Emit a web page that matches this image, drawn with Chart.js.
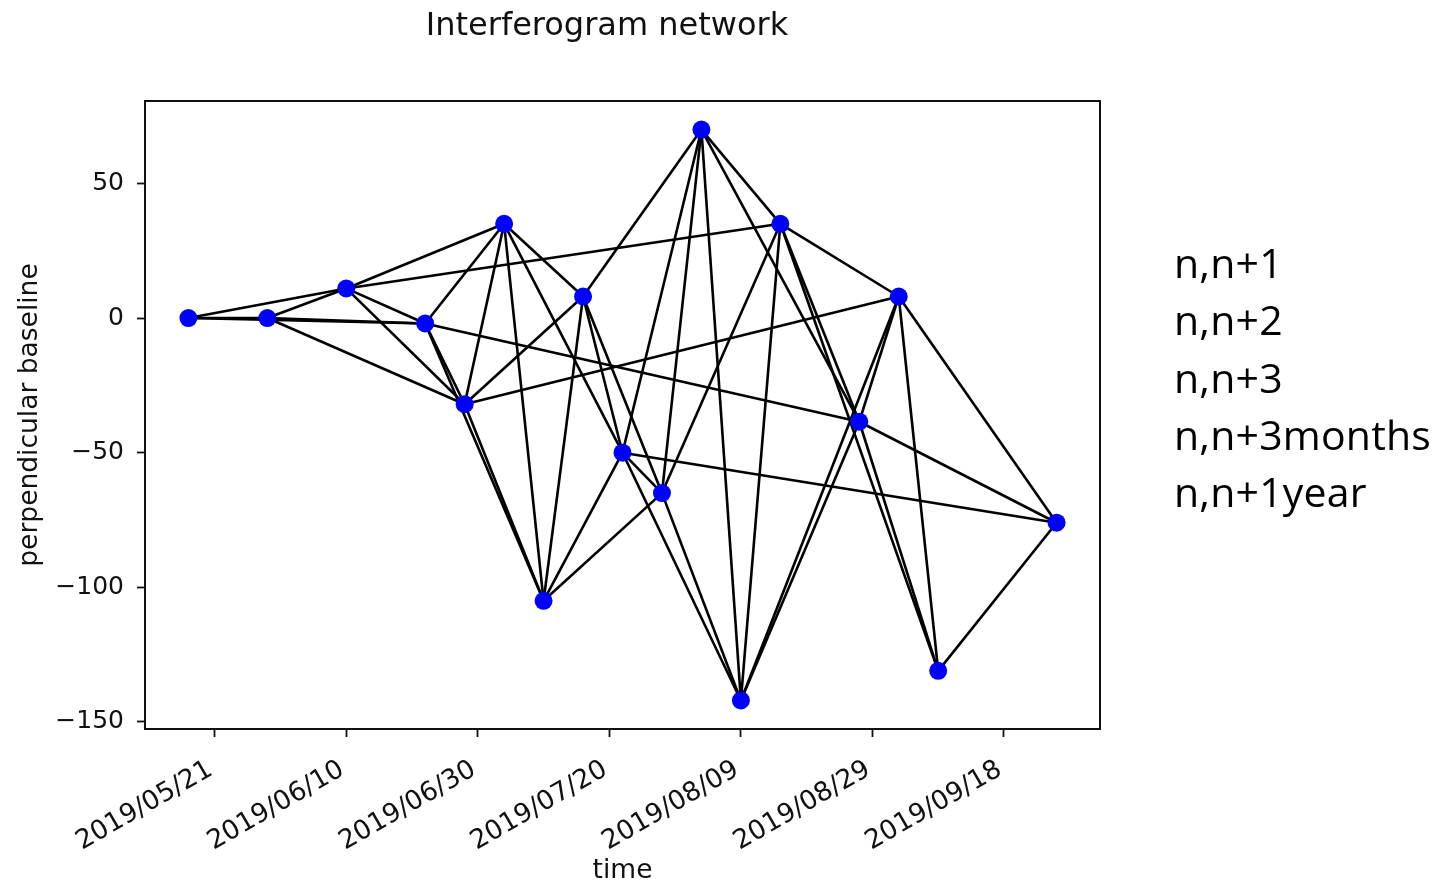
<!DOCTYPE html>
<html>
<head>
<meta charset="utf-8">
<title>Interferogram network</title>
<script src="https://cdn.jsdelivr.net/npm/chart.js@4.4.1/dist/chart.umd.min.js"></script>
<style>
  html, body { margin: 0; padding: 0; background: #ffffff; }
  #wrap { position: relative; width: 1449px; height: 883px; overflow: hidden; }
  #net { position: absolute; left: 0; top: 0; }
  #pairTypes {
    position: absolute; left: 1174px; top: 234px;
    font-family: "Open Sans", "Liberation Sans", sans-serif;
    font-size: 41px; line-height: 57.3px; color: #000000;
    letter-spacing: 0.2px; white-space: nowrap;
  }
</style>
</head>
<body>
<div id="wrap">
  <canvas id="net" width="1449" height="883"></canvas>
  <div id="pairTypes"></div>
</div>
<script>
// Acquisition dates and their perpendicular baselines
const acqDates = ['2019-05-17', '2019-05-29', '2019-06-10', '2019-06-22', '2019-06-28',
                  '2019-07-04', '2019-07-10', '2019-07-16', '2019-07-22', '2019-07-28',
                  '2019-08-03', '2019-08-09', '2019-08-15', '2019-08-27', '2019-09-02',
                  '2019-09-08', '2019-09-26'];
const bperp = [0, 0, 11, -2, -32, 35, -105, 8, -50, -65, 70, -142, 35, -38.5, 8, -131, -76];

// Interferogram pairs, as indices into acqDates
const pairs = [
  [0, 1], [0, 2], [0, 3],
  [1, 2], [1, 3], [1, 4],
  [2, 3], [2, 4], [2, 5], [2, 12],
  [3, 4], [3, 5], [3, 6], [3, 13],
  [4, 5], [4, 6], [4, 7], [4, 14],
  [5, 6], [5, 7], [5, 8],
  [6, 7], [6, 8], [6, 9],
  [7, 8], [7, 9], [7, 10],
  [8, 9], [8, 10], [8, 11], [8, 16],
  [9, 10], [9, 11], [9, 12],
  [10, 11], [10, 12], [10, 13],
  [11, 12], [11, 13], [11, 14],
  [12, 13], [12, 14], [12, 15],
  [13, 14], [13, 15], [13, 16],
  [14, 15], [14, 16],
  [15, 16]
];

// Axis tick labels
const dateTicks = ['2019/05/21', '2019/06/10', '2019/06/30', '2019/07/20',
                   '2019/08/09', '2019/08/29', '2019/09/18'];
const bperpTicks = [-150, -100, -50, 0, 50];

// Pair selection rules listed beside the plot
const pairTypes = ['n,n+1', 'n,n+2', 'n,n+3', 'n,n+3months', 'n,n+1year'];

const FONT = 'DejaVu Sans';
const TEXT = '#111111';

function dayNum(s) {
  const p = s.split(/[-\/]/).map(Number);
  return Date.UTC(p[0], p[1] - 1, p[2]) / 86400000;
}

const pts = acqDates.map((d, i) => ({ x: dayNum(d), y: bperp[i] }));

// 5% margins around the data, like the usual auto-scaled axes
const xs = pts.map(p => p.x), ys = pts.map(p => p.y);
const xMinD = Math.min(...xs), xMaxD = Math.max(...xs);
const yMinD = Math.min(...ys), yMaxD = Math.max(...ys);
const xPad = (xMaxD - xMinD) * 0.05, yPad = (yMaxD - yMinD) * 0.05;

const tickLabelByDay = {};
dateTicks.forEach(t => { tickLabelByDay[dayNum(t)] = t; });

const datasets = [{
  label: 'acquisitions',
  data: pts,
  showLine: false,
  pointRadius: 9,
  pointBorderWidth: 0,
  pointBackgroundColor: '#0000ff',
  pointBorderColor: '#0000ff'
}];
pairs.forEach(([a, b]) => {
  datasets.push({
    label: acqDates[a] + '_' + acqDates[b],
    data: [pts[a], pts[b]],
    showLine: true,
    borderColor: '#000000',
    borderWidth: 2.6,
    pointRadius: 0,
    tension: 0
  });
});

const framePlugin = {
  id: 'frame',
  afterDatasetsDraw(chart) {
    const { ctx, chartArea: a } = chart;
    ctx.save();
    ctx.strokeStyle = '#111111';
    ctx.lineWidth = 2;
    ctx.strokeRect(a.left, a.top, a.right - a.left, a.bottom - a.top);
    ctx.restore();
  }
};

const headingPlugin = {
  id: 'heading',
  afterDraw(chart) {
    const { ctx } = chart;
    ctx.save();
    ctx.fillStyle = TEXT;
    ctx.font = '32px "' + FONT + '"';
    ctx.textAlign = 'center';
    ctx.textBaseline = 'middle';
    ctx.fillText('Interferogram network', 607, 27);
    ctx.restore();
  }
};

const tickGrid = {
  display: true,
  drawOnChartArea: false,
  drawTicks: true,
  tickLength: 8,
  tickWidth: 1.8,
  tickColor: '#111111'
};

new Chart(document.getElementById('net'), {
  type: 'scatter',
  data: { datasets },
  options: {
    responsive: false,
    animation: false,
    devicePixelRatio: 1,
    events: [],
    layout: { padding: { top: 101, right: 349, left: 0, bottom: 0 } },
    plugins: {
      legend: { display: false },
      tooltip: { enabled: false },
      title: { display: false }
    },
    scales: {
      x: {
        type: 'linear',
        min: xMinD - xPad,
        max: xMaxD + xPad,
        afterBuildTicks(scale) {
          scale.ticks = dateTicks.map(t => ({ value: dayNum(t) }));
        },
        afterFit(scale) { scale.height = 154; },
        grid: tickGrid,
        border: { display: true, color: '#111111', width: 2 },
        ticks: {
          autoSkip: false,
          minRotation: 30,
          maxRotation: 30,
          padding: 17,
          labelOffset: -4,
          color: TEXT,
          font: { family: FONT, size: 26.5 },
          callback: v => tickLabelByDay[v] || ''
        },
        title: {
          display: true,
          text: 'time',
          color: TEXT,
          font: { family: FONT, size: 26.5 },
          padding: { top: 0, bottom: -4 }
        }
      },
      y: {
        type: 'linear',
        min: yMinD - yPad,
        max: yMaxD + yPad,
        afterBuildTicks(scale) {
          scale.ticks = bperpTicks.map(v => ({ value: v }));
        },
        afterFit(scale) { scale.width = 145; },
        grid: tickGrid,
        border: { display: true, color: '#111111', width: 2 },
        ticks: {
          padding: 13,
          color: TEXT,
          font: { family: FONT, size: 25 },
          callback: v => (v < 0 ? '\u2212' + (-v) : String(v))
        },
        title: {
          display: true,
          text: 'perpendicular baseline',
          color: TEXT,
          font: { family: FONT, size: 26.5 },
          padding: { top: 14, bottom: 0 }
        }
      }
    }
  },
  plugins: [framePlugin, headingPlugin]
});

document.getElementById('pairTypes').innerHTML =
  pairTypes.map(t => '<div>' + t + '</div>').join('');
</script>
</body>
</html>
